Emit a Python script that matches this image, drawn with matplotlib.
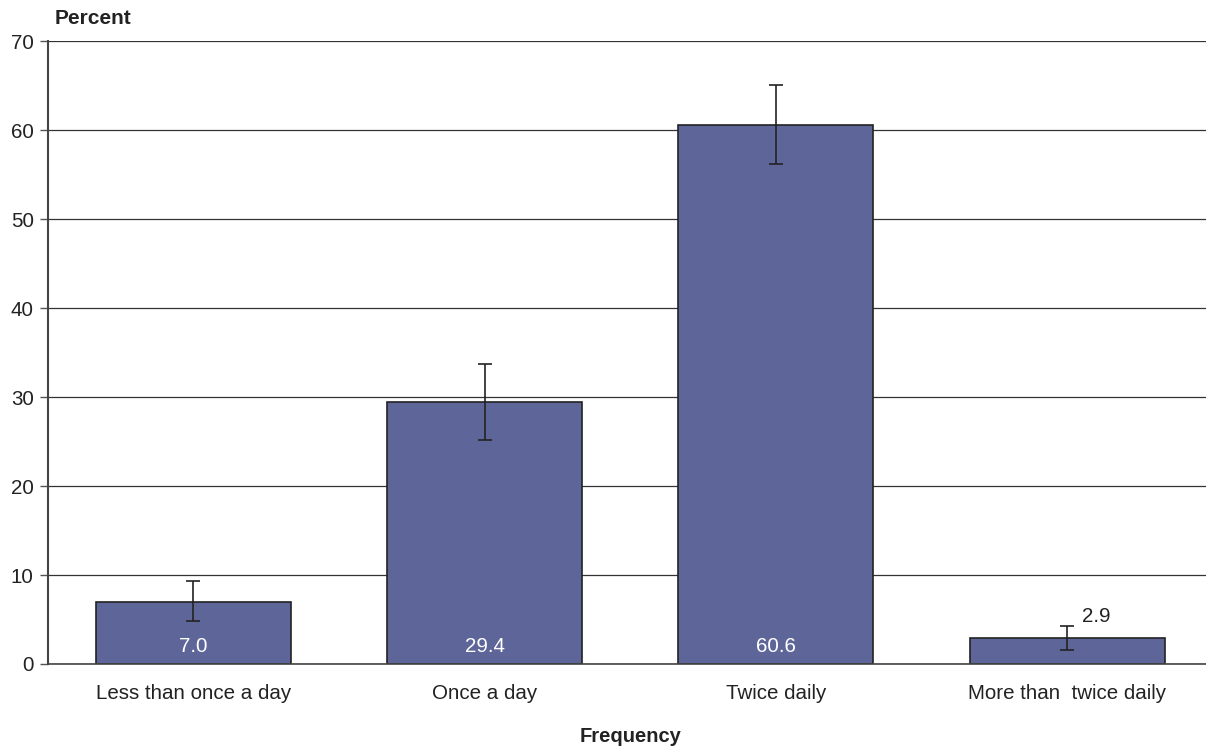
import numpy as np
import matplotlib.pyplot as plt

plt.rcParams['font.family'] = ['Liberation Sans', 'DejaVu Sans']

categories = ['Less than once a day', 'Once a day', 'Twice daily', 'More than  twice daily']
values = [7.0, 29.4, 60.6, 2.9]
err_low = [4.8, 25.2, 56.2, 1.6]
err_high = [9.3, 33.7, 65.1, 4.3]
labels = ['7.0', '29.4', '60.6', '2.9']

fig = plt.figure(figsize=(12.06, 7.48), dpi=100)
ax = fig.add_axes([0.0396, 0.1123, 0.966, 0.8328])

x = np.arange(len(categories))
yerr = [np.array(values) - np.array(err_low), np.array(err_high) - np.array(values)]

ax.set_axisbelow(True)
ax.yaxis.grid(True, color='#333333', linewidth=0.9)
ax.bar(x, values, width=0.67, color='#5e6699', edgecolor='#222222', linewidth=1.2, zorder=2)
ax.errorbar(x, values, yerr=yerr, fmt='none', ecolor='#222222', elinewidth=1.2,
            capsize=5, capthick=1.2, zorder=3)

for i in range(3):
    ax.text(x[i], 2.0, labels[i], ha='center', va='center', color='white', fontsize=14.8)
ax.text(x[3] + 0.05, 5.3, labels[3], ha='left', va='center', color='#222222', fontsize=14.8)

ax.set_xlim(-0.5, 3.5)
ax.set_ylim(0, 70)
ax.set_yticks(range(0, 71, 10))
ax.set_xticks(x)
ax.set_xticklabels(categories, fontsize=14.8, color='#222222')
ax.tick_params(axis='x', length=0, pad=14.5)
ax.tick_params(axis='y', labelsize=14.8, labelcolor='#222222', length=6, color='#555555', width=1, pad=4)

for s in ['top', 'right']:
    ax.spines[s].set_visible(False)
ax.spines['left'].set_color('#444444')
ax.spines['left'].set_linewidth(1.5)
ax.spines['bottom'].set_color('#444444')
ax.spines['bottom'].set_linewidth(1.2)

fig.text(55 / 1206, 1 - 18 / 748, 'Percent', fontsize=15, fontweight='bold', ha='left', va='center', color='#222222')
fig.text(631 / 1206, 1 - 737 / 748, 'Frequency', fontsize=14.5, fontweight='bold', ha='center', va='center', color='#222222')

fig.savefig('out.png', dpi=100)
